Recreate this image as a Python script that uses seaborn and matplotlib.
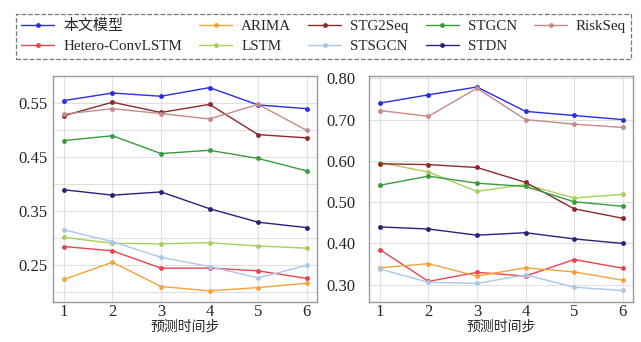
import numpy as np
import pandas as pd
import matplotlib
matplotlib.use('Agg')
import matplotlib.pyplot as plt
import seaborn as sns

sns.set_style('whitegrid')
plt.rcParams['font.family'] = ['Liberation Serif', 'Noto Sans CJK SC', 'DejaVu Sans']

steps = [1, 2, 3, 4, 5, 6]
models = ['本文模型', 'Hetero-ConvLSTM', 'ARIMA', 'LSTM', 'STG2Seq',
          'STSGCN', 'STGCN', 'STDN', 'RiskSeq']
colors = ['#2b2bea', '#e8454f', '#f2a33a', '#a8d05a', '#8a2a2a',
          '#a9c6ea', '#3a9a3e', '#26247a', '#c48a8a']

# left panel
left = {
    '本文模型':        [0.555, 0.569, 0.563, 0.579, 0.547, 0.540],
    'Hetero-ConvLSTM': [0.285, 0.277, 0.245, 0.245, 0.240, 0.226],
    'ARIMA':           [0.224, 0.256, 0.211, 0.203, 0.209, 0.217],
    'LSTM':            [0.302, 0.291, 0.290, 0.292, 0.286, 0.282],
    'STG2Seq':         [0.527, 0.552, 0.533, 0.548, 0.492, 0.486],
    'STSGCN':          [0.316, 0.294, 0.265, 0.248, 0.227, 0.250],
    'STGCN':           [0.481, 0.490, 0.457, 0.463, 0.448, 0.425],
    'STDN':            [0.390, 0.380, 0.386, 0.355, 0.330, 0.320],
    'RiskSeq':         [0.530, 0.540, 0.531, 0.521, 0.548, 0.500],
}

# right panel
right = {
    '本文模型':        [0.740, 0.760, 0.779, 0.720, 0.710, 0.700],
    'Hetero-ConvLSTM': [0.385, 0.308, 0.330, 0.321, 0.361, 0.340],
    'ARIMA':           [0.341, 0.351, 0.321, 0.341, 0.331, 0.311],
    'LSTM':            [0.596, 0.573, 0.526, 0.543, 0.510, 0.519],
    'STG2Seq':         [0.593, 0.591, 0.584, 0.548, 0.484, 0.461],
    'STSGCN':          [0.338, 0.306, 0.303, 0.324, 0.294, 0.286],
    'STGCN':           [0.541, 0.563, 0.546, 0.538, 0.501, 0.490],
    'STDN':            [0.440, 0.435, 0.420, 0.426, 0.411, 0.400],
    'RiskSeq':         [0.722, 0.708, 0.776, 0.700, 0.689, 0.681],
}


def to_long(d):
    rows = []
    for m in models:
        for s, v in zip(steps, d[m]):
            rows.append({'step': s, 'value': v, 'model': m})
    return pd.DataFrame(rows)


palette = dict(zip(models, colors))

fig = plt.figure(figsize=(6.41, 3.42), dpi=100)
ax1 = fig.add_axes([0.083, 0.118, 0.412, 0.659])
ax2 = fig.add_axes([0.576, 0.118, 0.412, 0.659])

for ax, d in [(ax1, left), (ax2, right)]:
    sns.lineplot(data=to_long(d), x='step', y='value', hue='model',
                 hue_order=models, palette=palette, marker='o',
                 markersize=3.5, markeredgewidth=0, linewidth=1.0,
                 ax=ax, legend=(ax is ax1))
    ax.set_xticks(steps)
    ax.set_xlim(0.78, 6.22)
    ax.set_xlabel('预测时间步', fontsize=10, labelpad=-1,
                  family=['Noto Sans CJK SC'])
    ax.set_ylabel('')
    ax.grid(True, color='#e0e0e0', linewidth=0.8)
    for sp in ax.spines.values():
        sp.set_color('#9a9a9a')
        sp.set_linewidth(1.0)
    ax.tick_params(axis='both', length=0, labelsize=12, pad=2)

ax1.tick_params(axis='y', pad=4)
ax2.tick_params(axis='y', pad=10)

ax1.set_ylim(0.183, 0.600)
yt = [0.20, 0.25, 0.30, 0.35, 0.40, 0.45, 0.50, 0.55]
ax1.set_yticks(yt)
ax1.set_yticklabels(['' if i % 2 == 0 else f'{v:.2f}' for i, v in enumerate(yt)])

ax2.set_ylim(0.259, 0.805)
yt2 = [0.30, 0.40, 0.50, 0.60, 0.70, 0.80]
ax2.set_yticks(yt2)
ax2.set_yticklabels([f'{v:.2f}' for v in yt2])

handles, labels = ax1.get_legend_handles_labels()
ax1.get_legend().remove()
leg = fig.legend(handles, labels, ncol=5, loc='upper left',
                 bbox_to_anchor=(0.025, 0.825, 0.96, 0.135), mode='expand',
                 fontsize=10.8, frameon=True, fancybox=False, handlelength=2.2,
                 columnspacing=1.0, borderaxespad=0, labelspacing=0.45,
                 handletextpad=0.6, borderpad=0.35)
frame = leg.get_frame()
frame.set_edgecolor('#555555')
frame.set_linestyle('--')
frame.set_linewidth(0.9)
for t in leg.get_texts():
    t.set_family(['Liberation Serif', 'Noto Sans CJK SC'])

fig.savefig('out.png', dpi=100)
